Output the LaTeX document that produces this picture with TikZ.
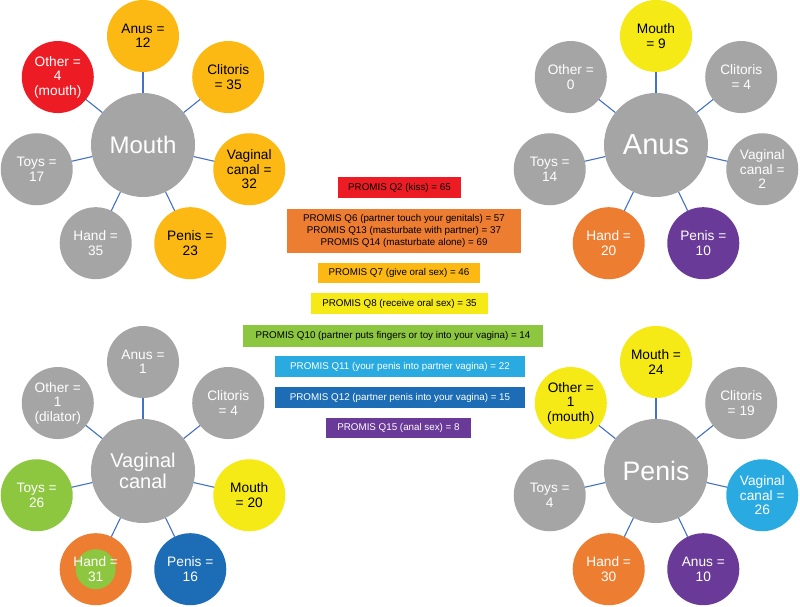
\documentclass[tikz,border=0pt]{standalone}
\usepackage{fontspec}
\setmainfont{Liberation Sans}
\definecolor{cgray}{HTML}{A5A5A5}
\definecolor{cgold}{HTML}{FDB913}
\definecolor{cred}{HTML}{ED1C24}
\definecolor{cyel}{HTML}{F5E916}
\definecolor{corange}{HTML}{ED7D31}
\definecolor{cpurple}{HTML}{6A3A98}
\definecolor{cblue}{HTML}{1C6DB6}
\definecolor{clblue}{HTML}{29ABE2}
\definecolor{cgreen}{HTML}{8DC63F}
\definecolor{cline}{HTML}{4472C4}
\tikzset{
  hub/.style={circle, fill=cgray, minimum size=104pt, inner sep=0pt, outer sep=0pt,
    text=white, align=center, font=\fontsize{24}{22}\selectfont},
  sat/.style={circle, minimum size=72pt, inner sep=0pt, outer sep=0pt,
    align=center, font=\fontsize{13.7}{14.5}\selectfont, text=white},
  dk/.style={text=black},
  conn/.style={draw=cline, line width=1.1pt},
  qbox/.style={rectangle, inner sep=0pt, outer sep=0pt, align=center,
    font=\fontsize{9.8}{11.7}\selectfont, text=black},
}
\begin{document}
\begin{tikzpicture}[x=1pt,y=1pt]
\useasboundingbox (0,0) rectangle (800,607);
\fill[white] (0,0) rectangle (800,607);
% ---------- Mouth cluster ----------
\node[hub] (M) at (143,462) {Mouth};
\node[sat, fill=cgold, dk] (MA) at ([shift={(90:109)}]M) {Anus =\\12};
\node[sat, fill=cgold, dk] (MC) at ([shift={(38.57:109)}]M) {Clitoris\\= 35};
\node[sat, fill=cgold, dk] (MV) at ([shift={(-12.86:109)}]M) {Vaginal\\canal =\\32};
\node[sat, fill=cgold, dk] (MP) at ([shift={(-64.29:109)}]M) {Penis =\\23};
\node[sat, fill=cgray] (MH) at ([shift={(-115.71:109)}]M) {Hand =\\35};
\node[sat, fill=cgray] (MT) at ([shift={(-167.14:109)}]M) {Toys =\\17};
\node[sat, fill=cred] (MO) at ([shift={(141.43:109)}]M) {Other =\\4\\(mouth)};
\foreach \s in {MA,MC,MV,MP,MH,MT,MO} \draw[conn] (M) -- (\s);
% ---------- Anus cluster ----------
\node[hub, font=\fontsize{29}{29}\selectfont] (A) at (656,462) {Anus};
\node[sat, fill=cyel, dk] (AM) at ([shift={(90:109)}]A) {Mouth\\= 9};
\node[sat, fill=cgray] (AC) at ([shift={(38.57:109)}]A) {Clitoris\\= 4};
\node[sat, fill=cgray] (AV) at ([shift={(-12.86:109)}]A) {Vaginal\\canal =\\2};
\node[sat, fill=cpurple] (AP) at ([shift={(-64.29:109)}]A) {Penis =\\10};
\node[sat, fill=corange] (AH) at ([shift={(-115.71:109)}]A) {Hand =\\20};
\node[sat, fill=cgray] (AT) at ([shift={(-167.14:109)}]A) {Toys =\\14};
\node[sat, fill=cgray] (AO) at ([shift={(141.43:109)}]A) {Other =\\0};
\foreach \s in {AM,AC,AV,AP,AH,AT,AO} \draw[conn] (A) -- (\s);
% ---------- Vaginal canal cluster ----------
\node[hub, font=\fontsize{20}{21}\selectfont] (V) at (143,136) {Vaginal\\canal};
\node[sat, fill=cgray] (VA) at ([shift={(90:109)}]V) {Anus =\\1};
\node[sat, fill=cgray] (VC) at ([shift={(38.57:109)}]V) {Clitoris\\= 4};
\node[sat, fill=cyel, dk] (VM) at ([shift={(-12.86:109)}]V) {Mouth\\= 20};
\node[sat, fill=cblue] (VP) at ([shift={(-64.29:109)}]V) {Penis =\\16};
\node[sat, fill=corange] (VH) at ([shift={(-115.71:109)}]V) {};
\fill[cgreen] (VH.center) circle (20);
\node[sat] (VHt) at (VH) {Hand =\\31};
\node[sat, fill=cgreen] (VT) at ([shift={(-167.14:109)}]V) {Toys =\\26};
\node[sat, fill=cgray] (VO) at ([shift={(141.43:109)}]V) {Other =\\1\\(dilator)};
\foreach \s in {VA,VC,VM,VP,VH,VT,VO} \draw[conn] (V) -- (\s);
% ---------- Penis cluster ----------
\node[hub, font=\fontsize{26.7}{27}\selectfont] (P) at (656,136) {Penis};
\node[sat, fill=cyel, dk] (PM) at ([shift={(90:109)}]P) {Mouth =\\24};
\node[sat, fill=cgray] (PC) at ([shift={(38.57:109)}]P) {Clitoris\\= 19};
\node[sat, fill=clblue] (PV) at ([shift={(-12.86:109)}]P) {Vaginal\\canal =\\26};
\node[sat, fill=cpurple] (PA) at ([shift={(-64.29:109)}]P) {Anus =\\10};
\node[sat, fill=corange] (PH) at ([shift={(-115.71:109)}]P) {Hand =\\30};
\node[sat, fill=cgray] (PT) at ([shift={(-167.14:109)}]P) {Toys =\\4};
\node[sat, fill=cyel, dk] (PO) at ([shift={(141.43:109)}]P) {Other =\\1\\(mouth)};
\foreach \s in {PM,PC,PV,PA,PH,PT,PO} \draw[conn] (P) -- (\s);
% ---------- PROMIS boxes ----------
\node[qbox, fill=cred, minimum width=123pt, minimum height=21pt] (q2) at (399.5,419.5) {PROMIS Q2 (kiss) = 65};
\node[qbox, fill=corange, minimum width=234pt, minimum height=44pt] (q6) at (404,376) {PROMIS Q6 (partner touch your genitals) = 57\\PROMIS Q13 (masturbate with partner) = 37\\PROMIS Q14 (masturbate alone) = 69};
\node[qbox, fill=cgold, minimum width=162pt, minimum height=20pt] (q7) at (399,334) {PROMIS Q7 (give oral sex) = 46};
\node[qbox, fill=cyel, minimum width=177pt, minimum height=21pt] (q8) at (399.5,303.5) {PROMIS Q8 (receive oral sex) = 35};
\node[qbox, fill=cgreen, minimum width=300pt, minimum height=22pt] (q10) at (393,271) {PROMIS Q10 (partner puts fingers or toy into your vagina) = 14};
\node[qbox, fill=clblue, text=white, minimum width=250pt, minimum height=21pt] (q11) at (400,240.5) {PROMIS Q11 (your penis into partner vagina) = 22};
\node[qbox, fill=cblue, text=white, minimum width=250pt, minimum height=21pt] (q12) at (400,209.5) {PROMIS Q12 (partner penis into your vagina) = 15};
\node[qbox, fill=cpurple, text=white, minimum width=145pt, minimum height=20pt] (q15) at (398.5,179) {PROMIS Q15 (anal sex) = 8};
\end{tikzpicture}
\end{document}
